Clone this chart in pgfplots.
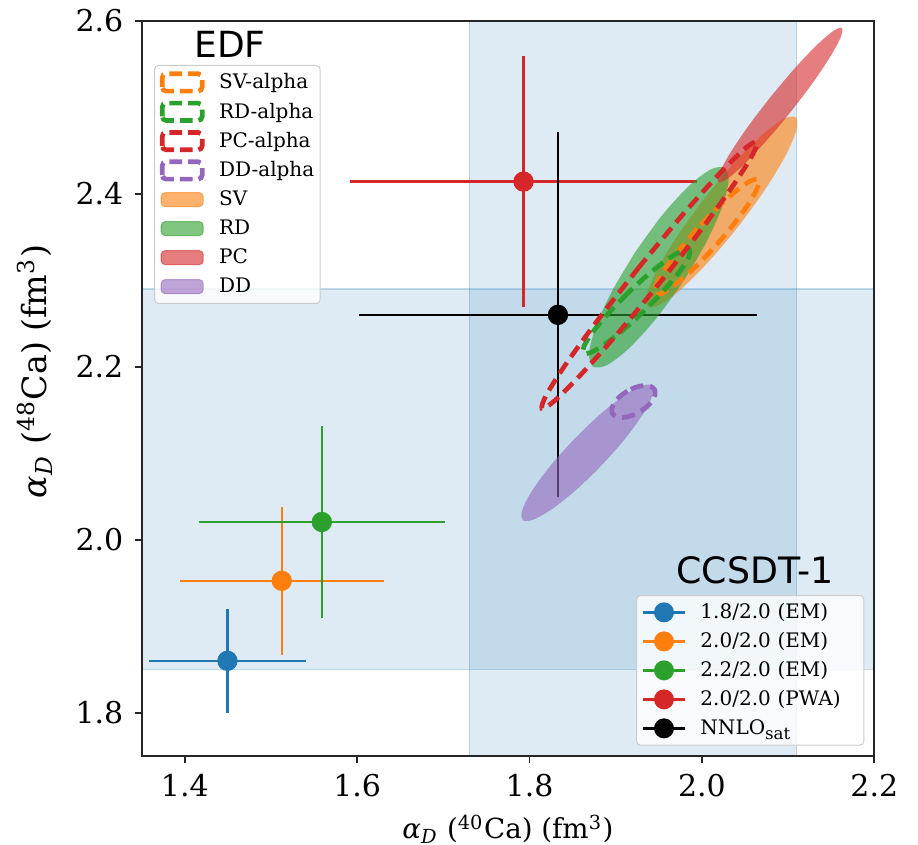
\documentclass[border=0pt]{standalone}
\usepackage{pgfplots}
\pgfplotsset{compat=1.18}
\usepackage{fontspec}
\setmainfont{DejaVu Serif}
\newfontfamily\dvsans{DejaVu Sans}

\definecolor{cBlue}{RGB}{31,119,180}
\definecolor{cOrange}{RGB}{255,127,14}
\definecolor{cGreen}{RGB}{44,160,44}
\definecolor{cRed}{RGB}{214,39,40}
\definecolor{cPurple}{RGB}{148,103,189}

\pgfplotsset{
  edf dashed legend/.style={legend image code/.code={%
      \path[draw=none, fill=none] (-0.5pt,-3.25pt) rectangle (12.5pt,3.25pt);
      \draw[fill=none, line width=1.4pt, dash pattern=on 3.8pt off 1.8pt] (0pt,-2.6pt) rectangle (12pt,2.6pt);}},
  edf patch legend/.style={legend image code/.code={%
      \path[draw=none, fill=none] (-0.5pt,-3.25pt) rectangle (12.5pt,3.25pt);
      \filldraw[line width=0.3pt, fill opacity=0.6, draw opacity=0.6] (-0.3pt,-2.1pt) rectangle (12.3pt,2.1pt);}},
  calc legend/.style={legend image code/.code={%
      \path[draw=none, fill=none] (-0.5pt,-3.25pt) rectangle (12.5pt,3.25pt);
      \draw[line width=0.7pt] (-0.1pt,0pt) -- (12.3pt,0pt);
      \fill[draw=none, fill opacity=1] (6.1pt,0pt) circle (3pt);}},
  base frame/.style={
    at={(0pt,0pt)}, anchor=south west, scale only axis,
    width=219.78pt, height=220.59pt,
    xmin=1.35, xmax=2.2, ymin=1.75, ymax=2.6,
  },
  box legend/.style={
    legend cell align=left,
    legend style={draw=black!20, line width=0.3pt, rounded corners=1.2pt,
      fill=white, fill opacity=0.8, draw opacity=1, text opacity=1,
      inner xsep=1.6pt, inner ysep=1.8pt, row sep=2.2pt, column sep=4.4pt,
      font=\fontsize{6}{7}\selectfont,
      nodes={inner sep=0pt, text height=4.6pt, text depth=0.8pt, align=left, text width=#1}},
  },
  calc point/.style={forget plot, color=#1, only marks, mark=*, mark size=2.85pt,
    error bars/.cd, x dir=both, x explicit, y dir=both, y explicit,
    error mark=none, error bar style={line width=0.7pt, color=#1}},
  edf fill/.style={forget plot, draw=none, fill=#1, fill opacity=0.6, smooth},
  edf line/.style={forget plot, draw=#1, line width=1.4pt, dash pattern=on 3.9pt off 2.1pt, smooth},
}

\begin{document}
\begin{tikzpicture}
% ---- frame, bands, CCSDT-1 results ----
\begin{axis}[base frame, axis on top,
  axis line style={line width=0.55pt, black!85},
  tick align=outside, major tick length=2pt,
  tick style={line width=0.55pt, black!85},
  xtick pos=bottom, ytick pos=left,
  xtick={1.4,1.6,1.8,2.0,2.2}, xticklabels={1.4,1.6,1.8,2.0,2.2},
  ytick={1.8,2.0,2.2,2.4,2.6}, yticklabels={1.8,2.0,2.2,2.4,2.6},
  ticklabel style={font=\fontsize{9}{10}\selectfont},
  xlabel={{\itshape α}\textsubscript{\itshape D} (\textsuperscript{40}Ca) (fm\textsuperscript{3})},
  ylabel={{\itshape α}\textsubscript{\itshape D} (\textsuperscript{48}Ca) (fm\textsuperscript{3})},
  xlabel style={font=\fontsize{8.3}{10}\selectfont, at={(axis description cs:0.5,-0.1125)}, anchor=base},
  ylabel style={font=\fontsize{10}{12}\selectfont, at={(axis description cs:-0.1297,0.5229)}, anchor=base},
  box legend=47.4pt,
  legend style={at={(axis description cs:0.9864,0.0140)}, anchor=south east},
]
% experimental ranges
\addplot[forget plot, fill=cBlue, fill opacity=0.15, draw=cBlue, draw opacity=0.25, line width=0.4pt]
  coordinates {(1.73,1.70) (2.11,1.70) (2.11,2.65) (1.73,2.65) (1.73,1.70)};
\addplot[forget plot, fill=cBlue, fill opacity=0.15, draw=cBlue, draw opacity=0.25, line width=0.4pt]
  coordinates {(1.30,1.85) (2.25,1.85) (2.25,2.29) (1.30,2.29) (1.30,1.85)};

\addplot[calc point=cBlue]   coordinates {(1.4495,1.8600) +- (0.0915,0.0600)};
\addplot[calc point=cOrange] coordinates {(1.5125,1.9525) +- (0.1185,0.0855)};
\addplot[calc point=cGreen]  coordinates {(1.5590,2.0205) +- (0.1430,0.1115)};
\addplot[calc point=cRed]    coordinates {(1.7930,2.4140) +- (0.2010,0.1450)};
\addplot[calc point=black]   coordinates {(1.8330,2.2600) +- (0.2310,0.2110)};

\addlegendimage{calc legend, color=cBlue}   \addlegendentry{1.8/2.0 (EM)}
\addlegendimage{calc legend, color=cOrange} \addlegendentry{2.0/2.0 (EM)}
\addlegendimage{calc legend, color=cGreen}  \addlegendentry{2.2/2.0 (EM)}
\addlegendimage{calc legend, color=cRed}    \addlegendentry{2.0/2.0 (PWA)}
\addlegendimage{calc legend, color=black}   \addlegendentry{NNLO\textsubscript{sat}}
\end{axis}

% ---- EDF covariance ellipses ----
\begin{axis}[base frame, hide axis,
  box legend=28.7pt,
  legend style={at={(axis description cs:0.0168,0.9398)}, anchor=north west},
]
\addlegendimage{edf dashed legend, color=cOrange} \addlegendentry{SV-alpha}
\addlegendimage{edf dashed legend, color=cGreen}  \addlegendentry{RD-alpha}
\addlegendimage{edf dashed legend, color=cRed}    \addlegendentry{PC-alpha}
\addlegendimage{edf dashed legend, color=cPurple} \addlegendentry{DD-alpha}
\addlegendimage{edf patch legend, color=cOrange}  \addlegendentry{SV}
\addlegendimage{edf patch legend, color=cGreen}   \addlegendentry{RD}
\addlegendimage{edf patch legend, color=cRed}     \addlegendentry{PC}
\addlegendimage{edf patch legend, color=cPurple}  \addlegendentry{DD}

% SV
\addplot[edf fill=cOrange] coordinates {(2.0029,2.3947) (1.9717,2.3516) (1.9483,2.3127) (1.9362,2.2838) (1.9374,2.2695) (1.9516,2.2718) (1.9767,2.2904) (2.0088,2.3226) (2.0431,2.3633) (2.0743,2.4064) (2.0977,2.4453) (2.1098,2.4742) (2.1086,2.4885) (2.0944,2.4862) (2.0693,2.4676) (2.0372,2.4354) (2.0029,2.3947)};
% RD
\addplot[edf fill=cGreen] coordinates {(1.9229,2.3330) (1.8958,2.2876) (1.8769,2.2464) (1.8691,2.2157) (1.8736,2.2001) (1.8898,2.2019) (1.9151,2.2210) (1.9458,2.2544) (1.9771,2.2970) (2.0042,2.3424) (2.0231,2.3836) (2.0309,2.4143) (2.0264,2.4299) (2.0102,2.4281) (1.9849,2.4090) (1.9542,2.3756) (1.9229,2.3330)};
% PC
\addplot[edf fill=cRed] coordinates {(2.0794,2.5116) (2.0528,2.4768) (2.0321,2.4459) (2.0202,2.4237) (2.0191,2.4134) (2.0288,2.4167) (2.0480,2.4331) (2.0737,2.4600) (2.1020,2.4934) (2.1286,2.5282) (2.1493,2.5591) (2.1612,2.5813) (2.1623,2.5916) (2.1526,2.5883) (2.1334,2.5719) (2.1077,2.5450) (2.0794,2.5116)};
% DD
\addplot[edf fill=cPurple] coordinates {(1.8512,2.1158) (1.8237,2.0849) (1.8028,2.0564) (1.7916,2.0346) (1.7920,2.0228) (1.8037,2.0229) (1.8251,2.0348) (1.8529,2.0566) (1.8828,2.0852) (1.9103,2.1161) (1.9312,2.1446) (1.9424,2.1664) (1.9420,2.1782) (1.9303,2.1781) (1.9089,2.1662) (1.8811,2.1444) (1.8512,2.1158)};
% SV-alpha
\addplot[edf line=cOrange] coordinates {(1.9947,2.3597) (1.9728,2.3336) (1.9558,2.3101) (1.9464,2.2926) (1.9459,2.2839) (1.9546,2.2852) (1.9710,2.2964) (1.9927,2.3157) (2.0163,2.3403) (2.0382,2.3664) (2.0552,2.3899) (2.0646,2.4074) (2.0651,2.4161) (2.0564,2.4148) (2.0400,2.4036) (2.0183,2.3843) (1.9947,2.3597)};
% RD-alpha
\addplot[edf line=cGreen] coordinates {(1.9143,2.2854) (1.8914,2.2617) (1.8735,2.2402) (1.8633,2.2240) (1.8624,2.2156) (1.8708,2.2163) (1.8873,2.2260) (1.9094,2.2432) (1.9337,2.2652) (1.9566,2.2889) (1.9745,2.3104) (1.9847,2.3266) (1.9856,2.3350) (1.9772,2.3343) (1.9607,2.3246) (1.9386,2.3074) (1.9143,2.2854)};
% PC-alpha
\addplot[edf line=cRed] coordinates {(1.9273,2.3154) (1.8805,2.2557) (1.8426,2.2037) (1.8194,2.1672) (1.8144,2.1519) (1.8283,2.1600) (1.8591,2.1904) (1.9021,2.2383) (1.9507,2.2966) (1.9975,2.3563) (2.0354,2.4083) (2.0586,2.4448) (2.0636,2.4601) (2.0497,2.4520) (2.0189,2.4216) (1.9759,2.3737) (1.9273,2.3154)};
% DD-alpha
\addplot[edf line=cPurple] coordinates {(1.9136,2.1719) (1.9048,2.1656) (1.8985,2.1585) (1.8955,2.1515) (1.8963,2.1458) (1.9009,2.1422) (1.9084,2.1413) (1.9178,2.1432) (1.9276,2.1477) (1.9364,2.1540) (1.9427,2.1611) (1.9457,2.1681) (1.9449,2.1738) (1.9403,2.1774) (1.9328,2.1783) (1.9234,2.1764) (1.9136,2.1719)};

\node[anchor=base, font=\dvsans\fontsize{10.8}{12}\selectfont] at (axis description cs:0.1205,0.9502) {EDF};
\node[anchor=base, font=\dvsans\fontsize{10.9}{12}\selectfont] at (axis description cs:0.8372,0.2349) {CCSDT-1};
\end{axis}
\pgfresetboundingbox
\useasboundingbox (-42.51pt,-26.7pt) rectangle (232.89pt,226.8pt);
\end{tikzpicture}
\end{document}
